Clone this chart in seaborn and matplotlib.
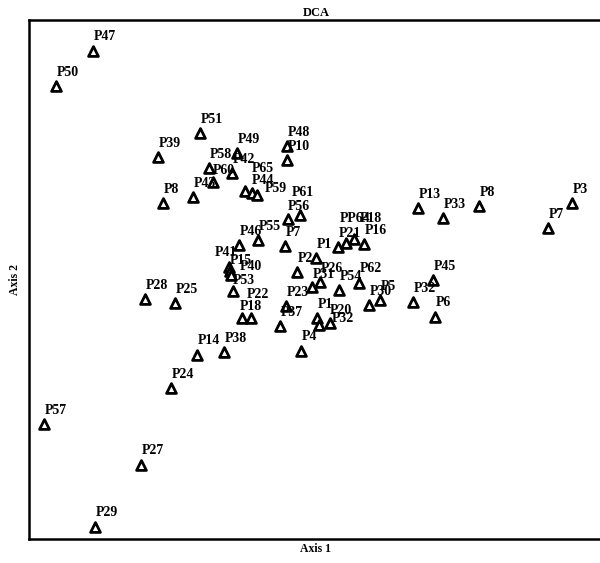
import pandas as pd
import matplotlib
matplotlib.use('Agg')
import matplotlib.pyplot as plt
import seaborn as sns

# Sample labels and DCA scores
labels = ['P47', 'P50', 'P51', 'P39', 'P49', 'P48', 'P10', 'P58', 'P42', 'P60',
          'P65', 'P44', 'P59', 'P43', 'P8', 'P61', 'P56', 'P55', 'P46', 'P7',
          'P1', 'P2', 'P21', 'PP64', 'P18', 'P16', 'P41', 'P15', 'P40', 'P53',
          'P26', 'P31', 'P54', 'P62', 'P5', 'P30', 'P23', 'P37', 'P18', 'P22',
          'P1', 'P20', 'P32', 'P4', 'P13', 'P33', 'P8', 'P3', 'P7', 'P45',
          'P32', 'P6', 'P28', 'P25', 'P14', 'P38', 'P24', 'P57', 'P27', 'P29']
axis1 = [0.64, 0.27, 1.71, 1.29, 2.08, 2.58, 2.58, 1.80, 2.03, 1.84,
         2.16, 2.23, 2.28, 1.64, 1.34, 2.71, 2.59, 2.29, 2.10, 2.56,
         2.87, 2.68, 3.09, 3.17, 3.25, 3.35, 2.00, 2.01, 2.02, 2.04,
         2.91, 2.83, 3.10, 3.30, 3.51, 3.40, 2.57, 2.51, 2.13, 2.22,
         2.88, 2.90, 3.01, 2.72, 3.89, 4.14, 4.50, 5.43, 5.19, 4.04,
         3.84, 4.06, 1.16, 1.46, 1.68, 1.95, 1.42, 0.15, 1.12, 0.66]
axis2 = [4.88, 4.53, 4.06, 3.82, 3.86, 3.93, 3.79, 3.71, 3.66, 3.57,
         3.48, 3.46, 3.44, 3.42, 3.36, 3.24, 3.20, 2.99, 2.94, 2.93,
         2.81, 2.67, 2.92, 2.96, 3.00, 2.95, 2.72, 2.68, 2.64, 2.48,
         2.57, 2.52, 2.49, 2.56, 2.39, 2.34, 2.33, 2.13, 2.21, 2.21,
         2.21, 2.14, 2.16, 1.88, 3.31, 3.21, 3.33, 3.36, 3.11, 2.59,
         2.37, 2.22, 2.40, 2.36, 1.84, 1.87, 1.51, 1.15, 0.74, 0.12]

df = pd.DataFrame({'label': labels, 'Axis 1': axis1, 'Axis 2': axis2})

# label offsets (pixels) for the crowded centre, by position in the list
label_offsets = {9: (0, 12), 10: (7, 23), 11: (0, 13), 12: (8, 7), 15: (-8, 23),
                 16: (0, 12), 23: (-6, 25), 24: (6, 21), 26: (-14, 14),
                 27: (0, 10), 28: (9, 8), 29: (0, 11), 31: (1, 12),
                 38: (-2, 11), 39: (-4, 23), 41: (11, 15), 42: (2, 4)}

sns.set_style('white')
plt.rcParams['font.family'] = ['Liberation Serif', 'DejaVu Serif']
plt.rcParams['text.color'] = 'black'
plt.rcParams['axes.labelcolor'] = 'black'

fig = plt.figure(figsize=(6, 5.63), dpi=100)
ax = fig.add_axes([29 / 600, 24 / 563, 574 / 600, 519 / 563])

sns.scatterplot(data=df, x='Axis 1', y='Axis 2', marker='^', s=50,
                color='white', edgecolor='black', linewidth=2.0, ax=ax, zorder=3)

for i, row in df.iterrows():
    dx, dy = label_offsets.get(i, (1, 14))
    ax.annotate(row['label'], (row['Axis 1'], row['Axis 2']), xytext=(dx, dy),
                textcoords='offset pixels', ha='left', va='center',
                fontsize=10, fontweight='bold', color='black', zorder=4)

ax.set_xlim(0, 5.74)
ax.set_ylim(0, 5.19)
ax.set_xticks([])
ax.set_yticks([])
for spine in ax.spines.values():
    spine.set_linewidth(1.8)
    spine.set_color('black')

ax.set_title('DCA', fontsize=9, fontweight='bold', color='black', pad=3)
ax.set_xlabel('Axis 1', fontsize=8.5, fontweight='bold', labelpad=3)
ax.set_ylabel('Axis 2', fontsize=8.5, fontweight='bold', labelpad=6)

fig.savefig('out.png', dpi=100)
